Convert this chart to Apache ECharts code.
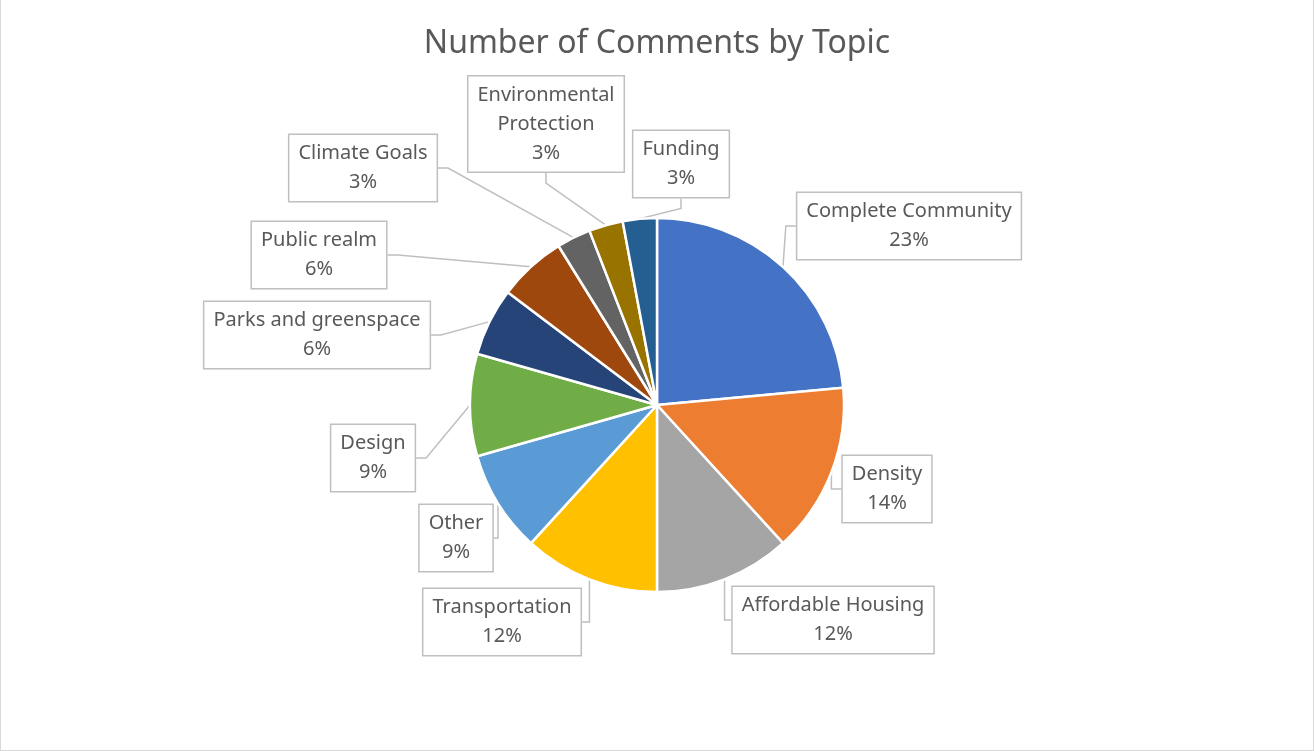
<!DOCTYPE html>
<html>
<head>
<meta charset="utf-8">
<script src="https://cdn.jsdelivr.net/npm/echarts@6/dist/echarts.min.js"></script>
<style>
  html, body { margin: 0; padding: 0; background: #fff; }
  #chart {
    width: 1314px; height: 751px; box-sizing: border-box;
    border-left: 1px solid #d9d9d9; border-right: 1px solid #d9d9d9; border-bottom: 1px solid #d9d9d9;
  }
</style>
</head>
<body>
<div id="chart"></div>
<script>
// comment counts per topic, clockwise from 12 o'clock
const topics = ['Complete Community', 'Density', 'Affordable Housing', 'Transportation', 'Other',
  'Design', 'Parks and greenspace', 'Public realm', 'Climate Goals', 'Environmental Protection', 'Funding'];
const counts = [8, 5, 4, 4, 3, 3, 2, 2, 1, 1, 1];
const colors = ['#4472C4', '#ED7D31', '#A5A5A5', '#FFC000', '#5B9BD5', '#70AD47',
  '#264478', '#9E480E', '#636363', '#997300', '#255E91'];

// callout box centres (Excel placed these by hand)
const calloutAt = [
  [908, 226], [886, 489], [832, 620], [501, 622], [455, 538], [372, 458],
  [316, 335], [318, 255], [362, 168], [545, 124], [680, 164]
];

const chart = echarts.init(document.getElementById('chart'));

const option = {
  color: colors,
  title: {
    text: 'Number of Comments by Topic',
    left: 'center',
    top: 23,
    textStyle: { fontFamily: 'Noto Sans', fontSize: 32, fontWeight: 'normal', color: '#595959' }
  },
  series: [{
    type: 'pie',
    center: [656, 405],
    radius: 187,
    startAngle: 90,
    clockwise: true,
    percentPrecision: 0,
    animation: false,
    itemStyle: { borderColor: '#fff', borderWidth: 2.5 },
    label: {
      formatter: (p) => p.name === 'Environmental Protection'
        ? 'Environmental\nProtection\n' + p.percent + '%'
        : p.name + '\n' + p.percent + '%',
      fontFamily: 'Noto Sans',
      fontSize: 20,
      lineHeight: 29,
      color: '#595959',
      backgroundColor: '#fff',
      borderColor: '#bfbfbf',
      borderWidth: 1.5,
      padding: [5, 9, 3, 9],
      align: 'center'
    },
    labelLine: {
      show: true,
      length: 20,
      length2: 10,
      lineStyle: { color: '#bfbfbf', width: 1.5 }
    },
    labelLayout: (params) => {
      const c = calloutAt[params.dataIndex];
      return { x: c[0], y: c[1], align: 'center', verticalAlign: 'middle' };
    },
    data: topics.map((t, i) => ({ name: t, value: counts[i] }))
  }]
};

chart.setOption(option);
window.addEventListener('resize', () => chart.resize());
</script>
</body>
</html>
